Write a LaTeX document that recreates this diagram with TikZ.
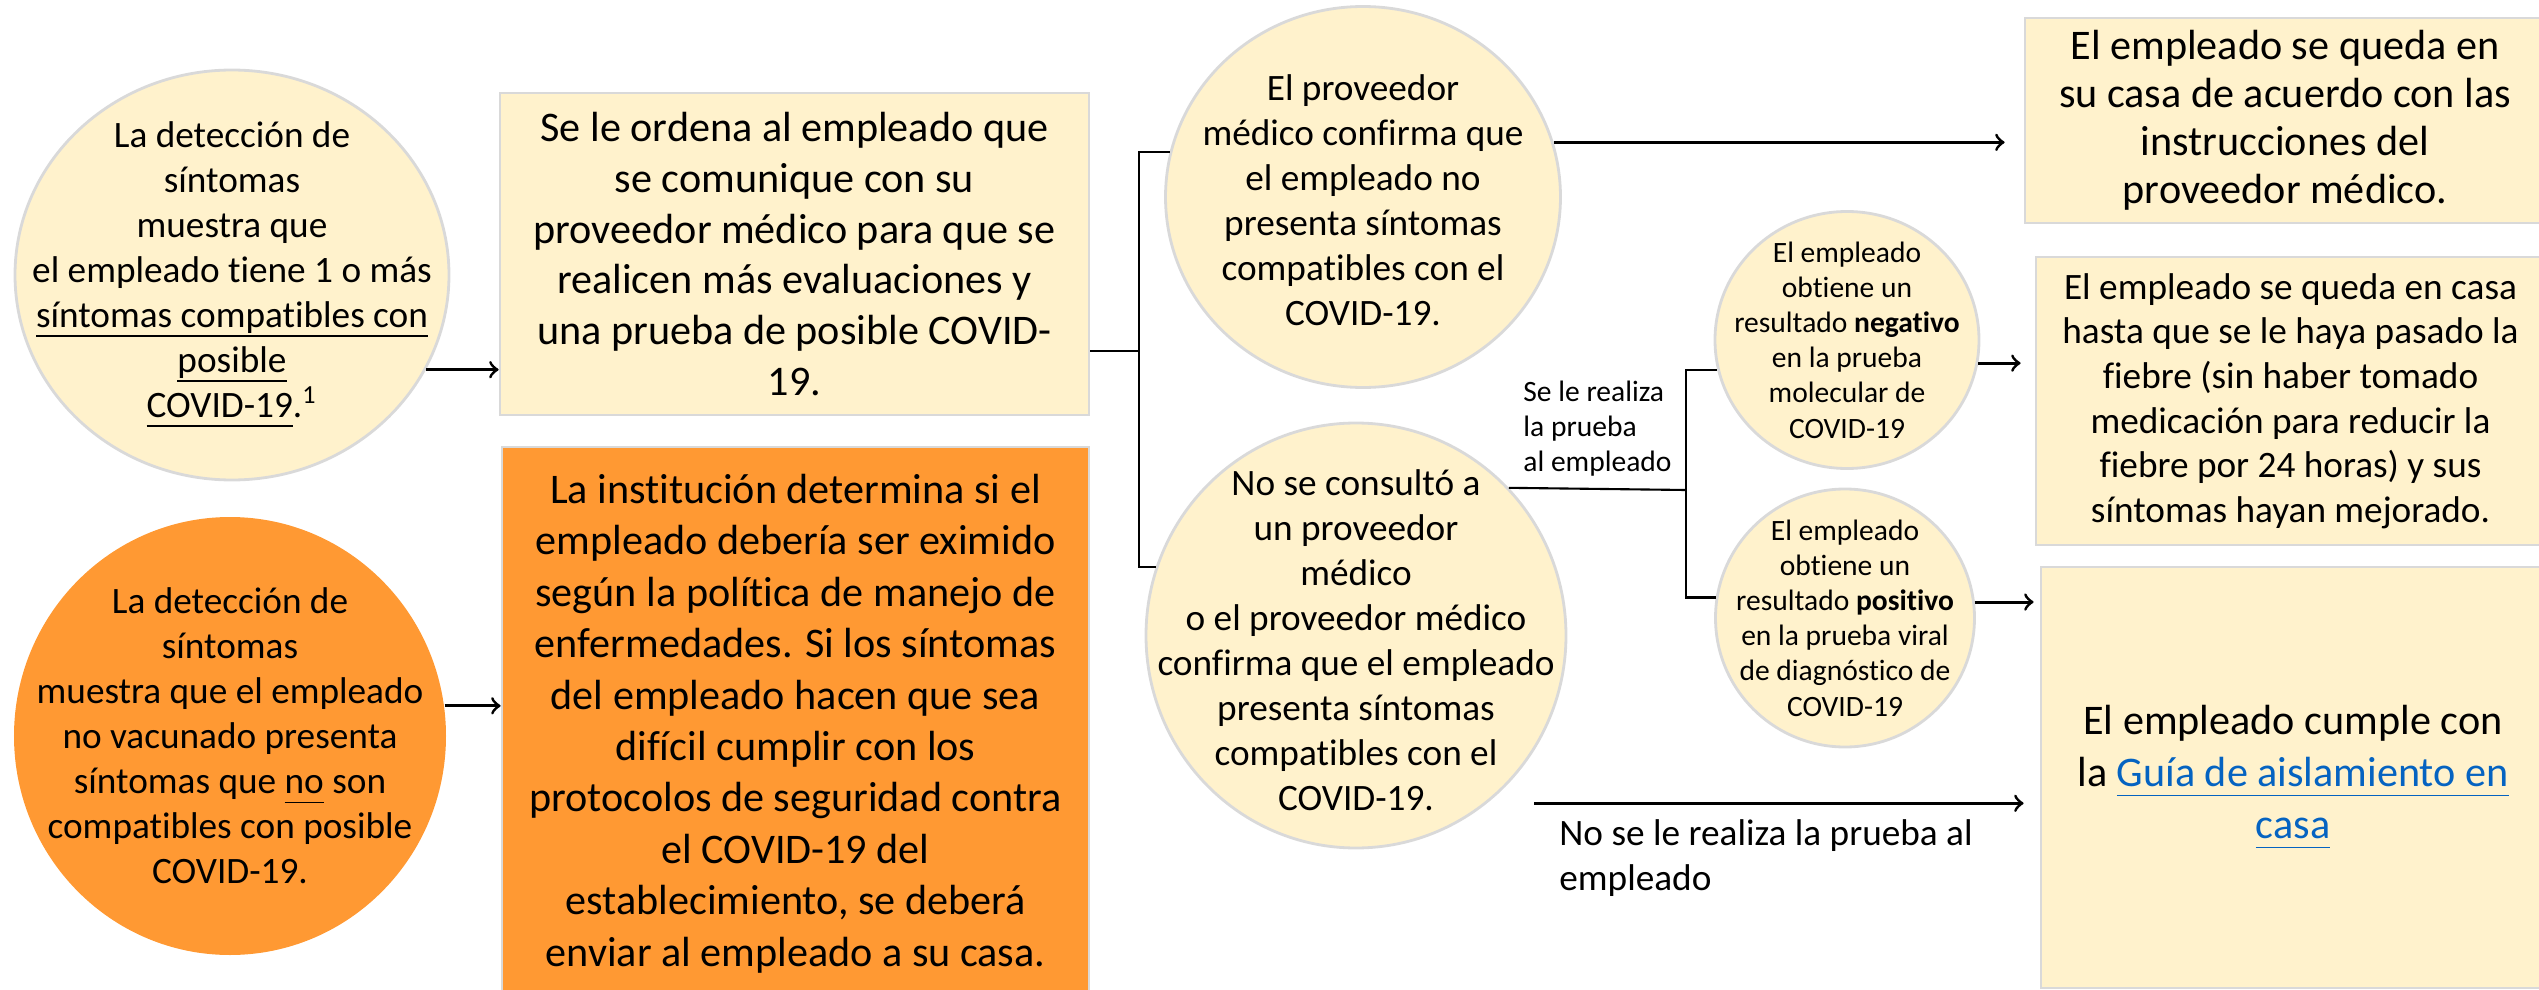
\documentclass[tikz,border=0pt]{standalone}
\usepackage{fontspec}
\setmainfont{Carlito}[Ligatures=NoCommon]
\usetikzlibrary{shapes.geometric,calc}
\definecolor{paleyellow}{HTML}{FFF2CC}
\definecolor{edgegrey}{HTML}{D9D9D9}
\definecolor{flagorange}{HTML}{FF9933}
\definecolor{linkblue}{HTML}{0563C1}
\newcommand{\uln}[1]{\underline{\smash{#1}\rule[-0.1em]{0pt}{0.1em}}}

\begin{document}
\begin{tikzpicture}[x=1cm,y=-1cm,
  bubble/.style={ellipse,draw=edgegrey,line width=0.8pt,fill=paleyellow,inner sep=0pt},
  hotbubble/.style={ellipse,fill=flagorange,inner sep=0pt},
  card/.style={rectangle,draw=edgegrey,line width=0.8pt,fill=paleyellow,inner sep=0pt,align=center},
  hotcard/.style={card,fill=flagorange},
  bigtxt/.style={align=center,font=\fontsize{10.6}{12.8}\selectfont},
  smalltxt/.style={align=center,font=\fontsize{8.4}{10}\selectfont},
  wire/.style={line width=0.6pt},
  arr/.style={line width=0.85pt,->}]
\useasboundingbox (0,0) rectangle (25.39,9.90);
\clip (0,0) rectangle (25.39,9.90);

% left column
\node[bubble,minimum width=4.34cm,minimum height=4.10cm] (detect) at (2.32,2.75) {};
\node[bigtxt] (detect-t) at (detect) {La detección de\\síntomas\\muestra que\\el empleado tiene 1 o más\\\uln{síntomas compatibles con}\\\uln{posible}\\\uln{COVID-19}.\textsuperscript{1}};
\node[hotbubble,minimum width=4.32cm,minimum height=4.38cm] (novac) at (2.30,7.36) {};
\node[bigtxt] (novac-t) at (novac) {La detección de\\síntomas\\muestra que el empleado\\no vacunado presenta\\síntomas que \uln{no} son\\compatibles con posible\\COVID-19.};

% boxes after screening
\node[card,minimum width=5.89cm,minimum height=3.22cm,font=\fontsize{12}{14.5}\selectfont] (contact) at (7.945,2.54) {Se le ordena al empleado que\\se comunique con su\\proveedor médico para que se\\realicen más evaluaciones y\\una prueba de posible COVID-\\19.};
\node[hotcard,minimum width=5.87cm,minimum height=5.53cm,font=\fontsize{12}{14.65}\selectfont] (inst) at (7.955,7.235) {La institución determina si el\\empleado debería ser eximido\\según la política de manejo de\\enfermedades. Si los síntomas\\del empleado hacen que sea\\difícil cumplir con los\\protocolos de seguridad contra\\el COVID-19 del\\establecimiento, se deberá\\enviar al empleado a su casa.};

% provider outcome
\node[bubble,minimum width=3.95cm,minimum height=3.81cm] (noSym) at (13.63,1.97) {};
\node[bigtxt] (noSym-t) at (13.63,2.00) {El proveedor\\médico confirma que\\el empleado no\\presenta síntomas\\compatibles con el\\COVID-19.};
\node[bubble,minimum width=4.20cm,minimum height=4.25cm] (sym) at (13.56,6.355) {};
\node[bigtxt] (sym-t) at (13.56,6.40) {No se consultó a\\un proveedor\\médico\\o el proveedor médico\\confirma que el empleado\\presenta síntomas\\compatibles con el\\COVID-19.};

% test results
\node[bubble,minimum width=2.64cm,minimum height=2.57cm] (neg) at (18.47,3.40) {};
\node[smalltxt] (neg-t) at (neg) {El empleado\\obtiene un\\resultado \textbf{negativo}\\en la prueba\\molecular de\\COVID-19};
\node[bubble,minimum width=2.59cm,minimum height=2.58cm] (pos) at (18.45,6.18) {};
\node[smalltxt] (pos-t) at (pos) {El empleado\\obtiene un\\resultado \textbf{positivo}\\en la prueba viral\\de diagnóstico de\\COVID-19};

% right column
\node[card,minimum width=5.20cm,minimum height=2.05cm,font=\fontsize{12}{13.7}\selectfont] (home) at (22.85,1.205) {El empleado se queda en\\su casa de acuerdo con las\\instrucciones del\\proveedor médico.};
\node[card,minimum width=5.09cm,minimum height=2.88cm,font=\fontsize{10.6}{12.7}\selectfont] (fever) at (22.905,4.01) {El empleado se queda en casa\\hasta que se le haya pasado la\\fiebre (sin haber tomado\\medicación para reducir la\\fiebre por 24 horas) y sus\\síntomas hayan mejorado.};
\node[card,minimum width=5.04cm,minimum height=4.21cm,font=\fontsize{12}{14.8}\selectfont] (isol) at (22.93,7.775) {El empleado cumple con\\la \textcolor{linkblue}{\uln{Guía de aislamiento en}}\\\textcolor{linkblue}{\uln{casa}}};

% connectors
\draw[arr] (detect.-26) -- (detect.-26 -| contact.west);
\draw[arr] (novac.8) -- (novac.8 -| inst.west);
\coordinate (fork1) at (11.39,3.51);
\draw[wire] (contact.east |- fork1) -- (fork1);
\draw[wire] (noSym.167) -| (fork1) |- (sym.161);
\draw[arr,shorten >=1.9mm] (noSym.16) -- (noSym.16 -| home.west);
\coordinate (fork2) at (16.86,4.90);
\draw[wire] (sym.44) -- node[smalltxt,align=left,above] (testLbl) {Se le realiza\\la prueba\\al empleado} (fork2);
\draw[wire] (neg.193) -| (fork2) |- (pos.171);
\draw[arr,shorten >=1.4mm] (neg.-10) -- (neg.-10 -| fever.west);
\draw[arr,shorten >=0.6mm] (pos.7) -- (pos.7 -| isol.west);
\draw[arr,shorten <=4.7mm,shorten >=1.6mm] (sym.-52) -- (sym.-52 -| isol.west);
\node[font=\fontsize{10.6}{12.8}\selectfont,align=left,anchor=north west] (noTestLbl) at (15.47,8.07) {No se le realiza la prueba al\\empleado};
\end{tikzpicture}
\end{document}
